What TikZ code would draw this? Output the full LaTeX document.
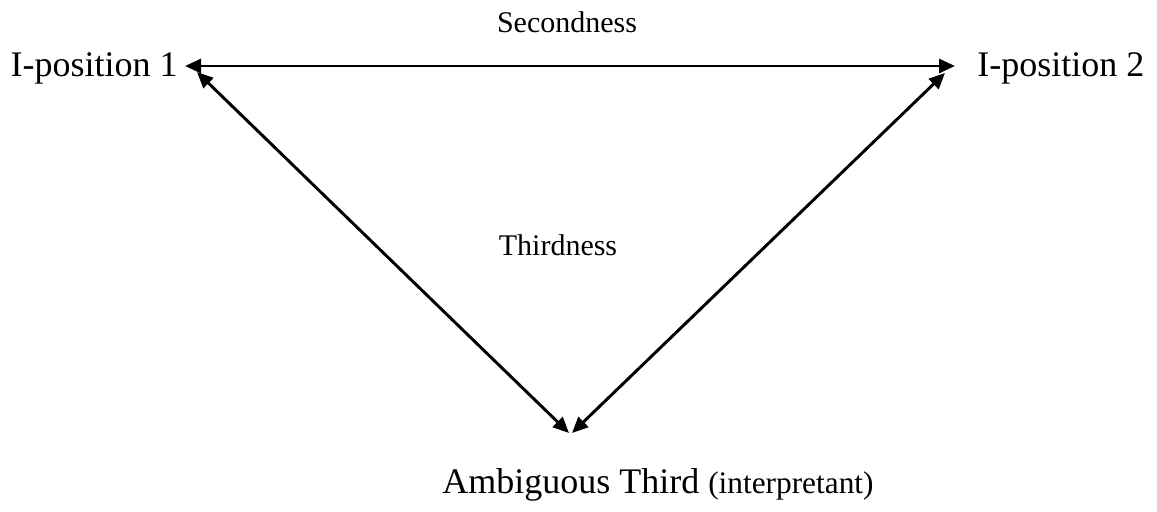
\documentclass[tikz,border=0pt]{standalone}
\usepackage{fontspec}
\setmainfont{Liberation Serif}
\usetikzlibrary{arrows.meta}
\begin{document}
\begin{tikzpicture}[x=0.75pt,y=-0.75pt,
  big/.style={font=\fontsize{27}{31}\selectfont, inner sep=0pt},
  small/.style={font=\fontsize{22.5}{26}\selectfont, inner sep=0pt},
  link/.style={line width=2.2pt, {Triangle[length=12pt,width=10.5pt]}-{Triangle[length=12pt,width=10.5pt]}}]
\useasboundingbox (0,0) rectangle (1157,511);
\node[big, anchor=base east] (i1) at (178,76) {I-position 1};
\node[big, anchor=base west] (i2) at (977,76) {I-position 2};
\node[big, anchor=base west] (amb) at (442,493) {Ambiguous Third {\fontsize{23.5}{27}\selectfont(interpretant)}};
\node[small, anchor=base] (sec) at (567,32) {Secondness};
\node[small, anchor=base] (thi) at (558,255) {Thirdness};
\coordinate (a1) at (185,66);
\coordinate (a2) at (955,66);
\coordinate (l1) at (197,72);
\coordinate (l2) at (569,433);
\coordinate (r1) at (945,73);
\coordinate (r2) at (572,433);
\draw[link] (a1) -- (a2);
\draw[link] (l1) -- (l2);
\draw[link] (r1) -- (r2);
\end{tikzpicture}
\end{document}
